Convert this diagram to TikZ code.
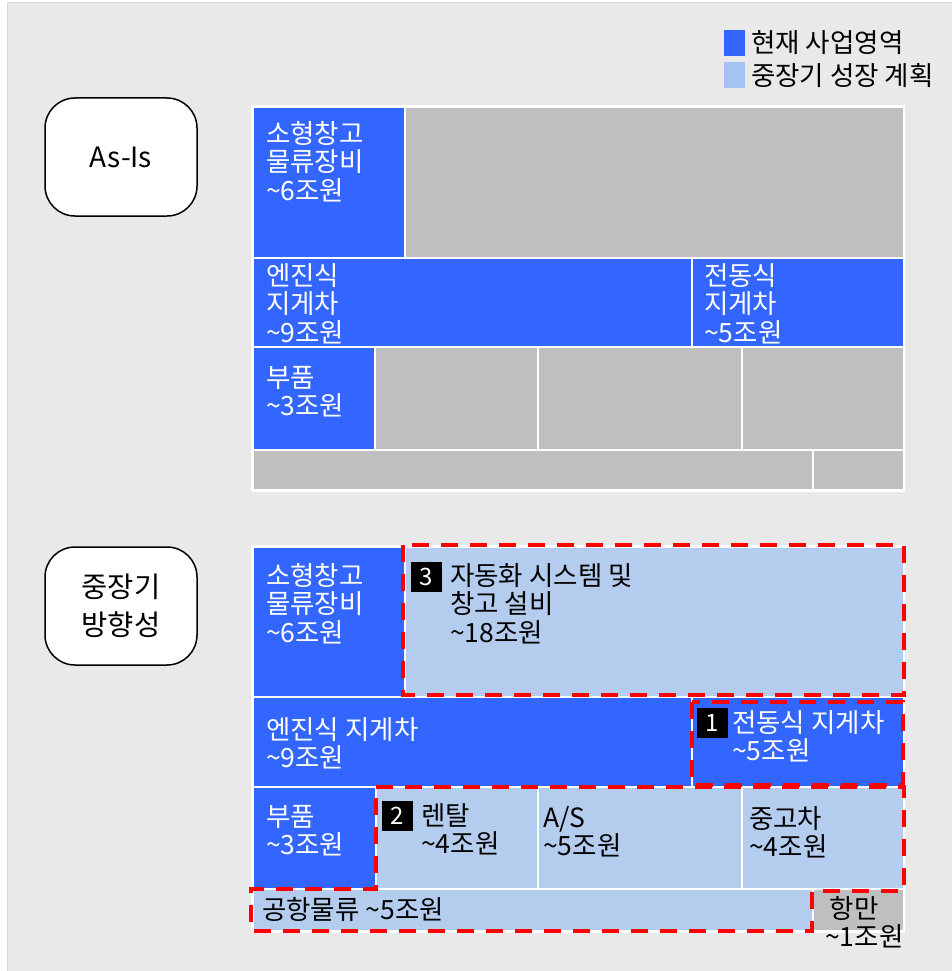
\documentclass[tikz,border=0pt]{standalone}
\usepackage{fontspec}
\setmainfont{Noto Sans CJK KR}
\newcommand\tld{\char"007E\relax}
\definecolor{curblue}{HTML}{3366FF}
\definecolor{planblue}{HTML}{B4CDEE}
\definecolor{legblue}{HTML}{A4C2F4}
\definecolor{cellgray}{HTML}{BFBFBF}
\definecolor{bgc}{HTML}{E9E9E9}
\definecolor{bgline}{HTML}{D6D6D6}
\begin{document}
\begin{tikzpicture}[x=1pt,y=-1pt,
  cell/.style={draw=white,line width=2.5pt},
  curcell/.style={cell,fill=curblue},
  plancell/.style={cell,fill=planblue},
  graycell/.style={cell,fill=cellgray},
  redbox/.style={draw=red,line width=4pt,dash pattern=on 17pt off 12pt},
  txt/.style={anchor=north west,inner sep=0pt,align=left,font=\fontsize{26.5}{28.5}\selectfont},
  wtxt/.style={txt,text=white},
  btxt/.style={txt,text=black},
  badge/.style={fill=black,text=white,inner sep=0pt,minimum width=31pt,minimum height=30pt,font=\fontsize{24}{24}\selectfont},
  phase/.style={draw=black,line width=1.5pt,fill=white,rounded corners=30pt,minimum width=152pt,minimum height=118pt,align=center},
  legsq/.style={inner sep=0pt,minimum width=21pt,minimum height=26pt},
  legtxt/.style={anchor=west,inner sep=0pt,font=\fontsize{26.5}{28}\selectfont}
]
\useasboundingbox (0,0) rectangle (952,971);
\fill[bgc] (7,3) rectangle (960,980);
\draw[bgline,line width=1pt] (7,980) -- (7,3) -- (960,3);

% legend
\node[legsq,fill=curblue] (lg1) at (734.5,43) {};
\node[legtxt] (lt1) at (751,43) {현재 사업영역};
\node[legsq,fill=legblue] (lg2) at (734.5,75.5) {};
\node[legtxt] (lt2) at (751,75.5) {중장기 성장 계획};

% phase labels
\node[phase,font=\fontsize{28}{32}\selectfont] (asis) at (121,157) {As-Is};
\node[phase,font=\fontsize{28.5}{38}\selectfont] (tobe) at (121,606) {중장기\\방향성};

% ---- As-Is table ----
\fill[white] (251,105) rectangle (905,492);
\draw[curcell] (253,107) rectangle (405,258);
\draw[graycell] (405,107) rectangle (904,258);
\draw[curcell] (253,258) rectangle (692,347);
\draw[curcell] (692,258) rectangle (904,347);
\draw[curcell] (253,347) rectangle (375,450);
\draw[graycell] (375,347) rectangle (538,450);
\draw[graycell] (538,347) rectangle (742,450);
\draw[graycell] (742,347) rectangle (904,450);
\draw[graycell] (253,450) rectangle (813,490);
\draw[graycell] (813,450) rectangle (904,490);

\node[wtxt] (a1) at (266,121) {소형창고\\물류장비\\\tld6조원};
\node[wtxt] (a2) at (266,263) {엔진식\\지게차\\\tld9조원};
\node[wtxt] (a3) at (704,263) {전동식\\지게차\\\tld5조원};
\node[wtxt] (a4) at (266,366) {부품\\\tld3조원};

% ---- Mid-term table ----
\fill[white] (251,545) rectangle (905,933);
\draw[curcell] (253,547) rectangle (405,697);
\draw[plancell] (405,547) rectangle (904,697);
\draw[curcell] (253,697) rectangle (692,787);
\draw[curcell] (692,697) rectangle (904,787);
\draw[curcell] (253,787) rectangle (376,889);
\draw[plancell] (376,787) rectangle (538,889);
\draw[plancell] (538,787) rectangle (742,889);
\draw[plancell] (742,787) rectangle (904,889);
\draw[plancell] (253,889) rectangle (813,931);
\draw[graycell] (813,889) rectangle (904,931);

\node[wtxt] (b1) at (266,563) {소형창고\\물류장비\\\tld6조원};
\node[badge] (n3) at (426.5,576.5) {3};
\node[btxt] (b2) at (450,563) {자동화 시스템 및\\창고 설비\\\tld18조원};
\node[wtxt] (b3) at (266,717) {엔진식 지게차\\\tld9조원};
\node[badge] (n1) at (712,722.5) {1};
\node[wtxt] (b4) at (732,710) {전동식 지게차\\\tld5조원};
\node[wtxt] (b5) at (266,805) {부품\\\tld3조원};
\node[badge] (n2) at (397,815.5) {2};
\node[btxt] (b6) at (421,803) {렌탈\\\tld4조원};
\node[btxt] (b7) at (543,806) {A/S\\\tld5조원};
\node[btxt] (b8) at (749,806) {중고차\\\tld4조원};
\node[btxt] (b9) at (262,897) {공항물류 \tld5조원};
\node[btxt] (b10) at (825,896) {\,항만\\\tld1조원};

% red dashed focus areas
\draw[redbox] (403,545) rectangle (904,695);
\draw[redbox] (692,702) rectangle (903,785);
\draw[redbox] (376,787) -- (904,787) -- (904,891) -- (812,891) -- (812,931) -- (251,931) -- (251,889) -- (376,889) -- cycle;
\end{tikzpicture}
\end{document}
